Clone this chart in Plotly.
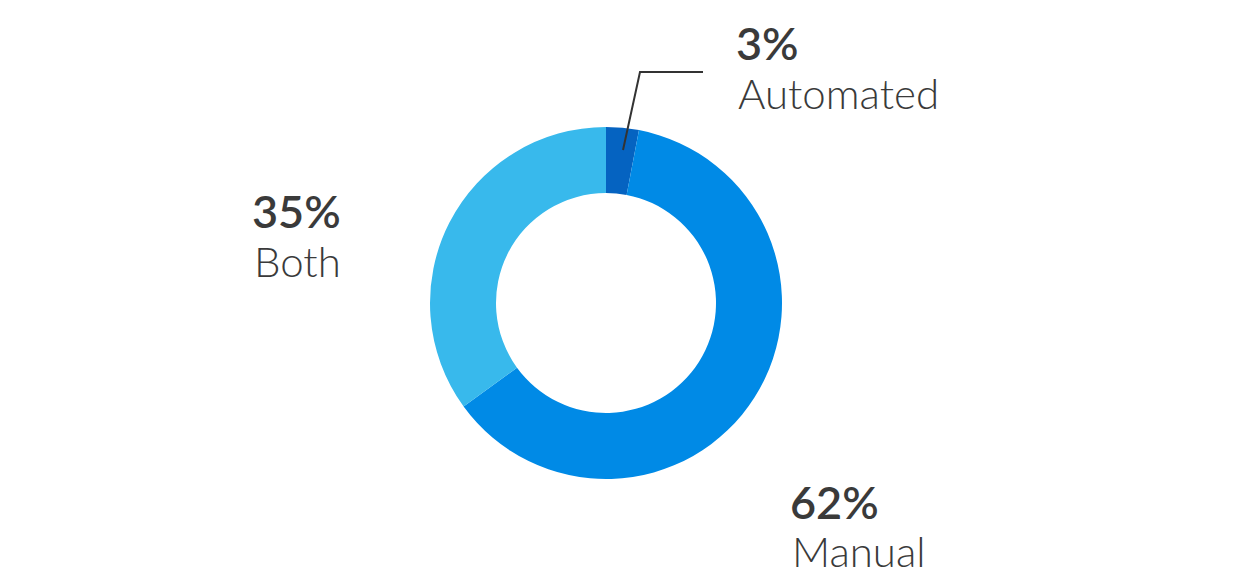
import plotly.graph_objects as go

labels = ["Automated", "Manual", "Both"]
values = [3, 62, 35]
colors = ["#0563c1", "#008ae6", "#38b9ec"]

W, H = 1251, 584
OFF = 8  # page body margin offset
cx, cy, r = 606 - OFF, 303 - OFF, 176


def px(x):
    return (x - OFF) / W


def py(y):
    return 1 - (y - OFF) / H


fig = go.Figure(go.Pie(
    labels=labels,
    values=values,
    hole=0.625,
    sort=False,
    direction="clockwise",
    rotation=0,
    marker=dict(colors=colors, line=dict(width=0)),
    textinfo="none",
    hoverinfo="label+percent",
    showlegend=False,
    domain=dict(x=[(cx - r) / W, (cx + r) / W], y=[1 - (cy + r) / H, 1 - (cy - r) / H]),
))

font_family = "Lato"
txt_color = "#3a3a3a"

# label placements (pixel positions of text anchors in the screenshot)
label_pos = {
    "Automated": dict(x=734, y_pct=43, y_lab=93, anchor="left"),
    "Manual": dict(x=788, y_pct=502, y_lab=551, anchor="left"),
    "Both": dict(x=343, y_pct=211, y_lab=261, anchor="right"),
}

annotations = []
for lab, val in zip(labels, values):
    p = label_pos[lab]
    annotations.append(dict(
        x=px(p["x"]), y=py(p["y_pct"]), xref="paper", yref="paper",
        xanchor=p["anchor"], yanchor="middle", showarrow=False,
        text=f"{val}%",
        font=dict(family=font_family, size=45, color=txt_color, weight=600),
    ))
    annotations.append(dict(
        x=px(p["x"] + (2 if p["anchor"] == "left" else 0)), y=py(p["y_lab"]),
        xref="paper", yref="paper",
        xanchor=p["anchor"], yanchor="middle", showarrow=False,
        text=lab,
        font=dict(family=font_family, size=42, color=txt_color, weight=300),
    ))

fig.update_layout(
    width=W, height=H,
    margin=dict(l=0, r=0, t=0, b=0),
    paper_bgcolor="white",
    plot_bgcolor="white",
    annotations=annotations,
    shapes=[dict(
        type="path", xref="paper", yref="paper",
        path=f"M {px(623)} {py(150)} L {px(640)} {py(72)} L {px(703)} {py(72)}",
        line=dict(color="#333333", width=2),
    )],
)

fig.write_html("out.html")
